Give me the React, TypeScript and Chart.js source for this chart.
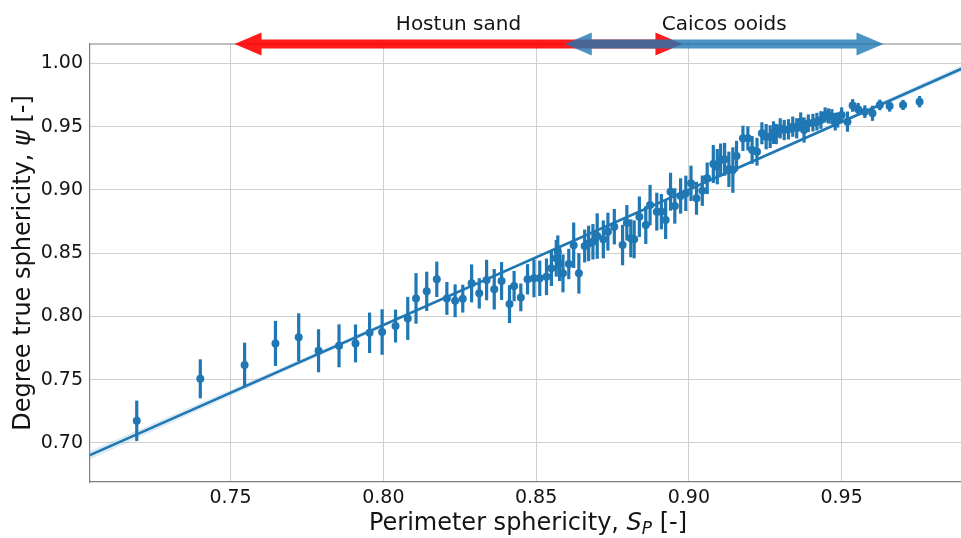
import React, { useEffect, useRef } from "react";
import { Chart, registerables } from "chart.js";

Chart.register(...registerables);

// ---- Data ----
const perimeterSphericity = [
  0.7193, 0.7401, 0.7546, 0.7647, 0.7723, 0.7788, 0.7855, 0.7909, 0.7955, 0.7996,
  0.8040, 0.8080, 0.8107, 0.8142, 0.8175, 0.8208, 0.8235, 0.8260, 0.8289, 0.8314,
  0.8338, 0.8363, 0.8387, 0.8413, 0.8428, 0.8450, 0.8472, 0.8493, 0.8512, 0.8534,
  0.8550, 0.8566, 0.8571, 0.8577, 0.8588, 0.8607, 0.8623, 0.8640, 0.8659, 0.8672,
  0.8686, 0.8700, 0.8720, 0.8735, 0.8756, 0.8783, 0.8797, 0.8810, 0.8821, 0.8838,
  0.8859, 0.8873, 0.8895, 0.8910, 0.8924, 0.8940, 0.8954, 0.8973, 0.8990, 0.9007,
  0.9025, 0.9044, 0.9060, 0.9080, 0.9093, 0.9104, 0.9117, 0.9131, 0.9144, 0.9156,
  0.9177, 0.9193, 0.9207, 0.9223, 0.9239, 0.9253, 0.9266, 0.9277, 0.9286, 0.9299,
  0.9312, 0.9326, 0.9340, 0.9353, 0.9366, 0.9377, 0.9391, 0.9406, 0.9419, 0.9432,
  0.9446, 0.9457, 0.9468, 0.9479, 0.9487, 0.9500, 0.9519, 0.9536, 0.9554, 0.9576,
  0.9601, 0.9625, 0.9657, 0.9701, 0.9755,
];

const trueSphericity = [
  0.7174, 0.7506, 0.7615, 0.7786, 0.7834, 0.7728, 0.7767, 0.7786, 0.7870, 0.7876,
  0.7923, 0.7984, 0.8142, 0.8198, 0.8293, 0.8142, 0.8123, 0.8140, 0.8261, 0.8182,
  0.8287, 0.8214, 0.8279, 0.8097, 0.8240, 0.8150, 0.8293, 0.8301, 0.8301, 0.8313,
  0.8380, 0.8459, 0.8510, 0.8419, 0.8340, 0.8414, 0.8562, 0.8340, 0.8556, 0.8577,
  0.8590, 0.8635, 0.8609, 0.8670, 0.8709, 0.8564, 0.8740, 0.8617, 0.8609, 0.8788,
  0.8722, 0.8880, 0.8828, 0.8828, 0.8762, 0.8986, 0.8873, 0.8952, 0.8973, 0.9052,
  0.8934, 0.8994, 0.9092, 0.9205, 0.9184, 0.9237, 0.9242, 0.9163, 0.9157, 0.9268,
  0.9408, 0.9408, 0.9316, 0.9302, 0.9448, 0.9421, 0.9421, 0.9453, 0.9442, 0.9487,
  0.9474, 0.9479, 0.9500, 0.9487, 0.9540, 0.9474, 0.9527, 0.9532, 0.9540, 0.9553,
  0.9593, 0.9585, 0.9579, 0.9540, 0.9553, 0.9593, 0.9540, 0.9668, 0.9638, 0.9619,
  0.9606, 0.9672, 0.9664, 0.9672, 0.9698,
];

const sphericityError = [
  0.016, 0.0154, 0.0177, 0.0178, 0.019, 0.017, 0.017, 0.015, 0.016, 0.018,
  0.013, 0.017, 0.020, 0.0155, 0.014, 0.013, 0.013, 0.011, 0.015, 0.012,
  0.016, 0.016, 0.015, 0.015, 0.012, 0.011, 0.012, 0.015, 0.014, 0.0145,
  0.014, 0.0145, 0.013, 0.014, 0.015, 0.012, 0.018, 0.016, 0.013, 0.014,
  0.014, 0.018, 0.015, 0.015, 0.014, 0.016, 0.014, 0.015, 0.015, 0.016,
  0.015, 0.016, 0.015, 0.014, 0.015, 0.015, 0.014, 0.014, 0.014, 0.014,
  0.013, 0.012, 0.0125, 0.015, 0.014, 0.013, 0.013, 0.014, 0.018, 0.012,
  0.010, 0.0095, 0.011, 0.011, 0.0087, 0.010, 0.009, 0.009, 0.008, 0.008,
  0.008, 0.008, 0.008, 0.008, 0.0073, 0.010, 0.007, 0.007, 0.007, 0.007,
  0.006, 0.006, 0.006, 0.007, 0.006, 0.006, 0.008, 0.005, 0.005, 0.005,
  0.006, 0.0042, 0.0045, 0.004, 0.0045,
];

// regression line and its confidence band
const fitX = [0.704, 0.9907];
const fitY = [0.6902, 0.9974];
const bandX = [0.704, 0.75, 0.8, 0.85, 0.9, 0.95, 0.9907];
const bandUpper = [0.6937, 0.742, 0.7946, 0.8477, 0.9012, 0.9553, 0.9999];
const bandLower = [0.6867, 0.737, 0.7916, 0.8457, 0.8992, 0.9523, 0.9949];

// tick labels
const xTicks = [0.75, 0.8, 0.85, 0.9, 0.95];
const yTicks = [0.7, 0.75, 0.8, 0.85, 0.9, 0.95, 1.0];

// range annotations at the top of the plot
const hostunLabel = "Hostun sand";
const hostunRange = [0.7513, 0.8979];
const caicosLabel = "Caicos ooids";
const caicosRange = [0.8594, 0.9637];

const FONT = "'DejaVu Sans', sans-serif";
const BLUE = "#1f77b4";
const TEXT = "#141414";

function drawArrow(ctx: CanvasRenderingContext2D, x0: number, x1: number, yc: number, color: string) {
  const shaft = 4.5;
  const headHalf = 11.5;
  const headLen = 27;
  ctx.beginPath();
  ctx.moveTo(x0, yc);
  ctx.lineTo(x0 + headLen, yc - headHalf);
  ctx.lineTo(x0 + headLen, yc - shaft);
  ctx.lineTo(x1 - headLen, yc - shaft);
  ctx.lineTo(x1 - headLen, yc - headHalf);
  ctx.lineTo(x1, yc);
  ctx.lineTo(x1 - headLen, yc + headHalf);
  ctx.lineTo(x1 - headLen, yc + shaft);
  ctx.lineTo(x0 + headLen, yc + shaft);
  ctx.lineTo(x0 + headLen, yc + headHalf);
  ctx.closePath();
  ctx.fillStyle = color;
  ctx.fill();
}

const errorBarPlugin = {
  id: "errorBars",
  beforeDatasetDraw(chart: any, args: any) {
    if (args.index !== 0) return;
    const { ctx, scales } = chart;
    const xs = scales.x;
    const ys = scales.y;
    ctx.save();
    ctx.strokeStyle = BLUE;
    ctx.lineWidth = 3.2;
    perimeterSphericity.forEach((sp, i) => {
      const px = xs.getPixelForValue(sp);
      const y1 = ys.getPixelForValue(trueSphericity[i] - sphericityError[i]);
      const y2 = ys.getPixelForValue(trueSphericity[i] + sphericityError[i]);
      ctx.beginPath();
      ctx.moveTo(px, y1);
      ctx.lineTo(px, y2);
      ctx.stroke();
    });
    ctx.restore();
  },
};

const decorPlugin = {
  id: "decor",
  afterDraw(chart: any) {
    const { ctx, chartArea, scales } = chart;
    const xs = scales.x;
    const top = chartArea.top;
    ctx.save();
    // top spine
    ctx.strokeStyle = "#808080";
    ctx.lineWidth = 1.2;
    ctx.beginPath();
    ctx.moveTo(chartArea.left, top);
    ctx.lineTo(chartArea.right, top);
    ctx.stroke();

    // arrows
    ctx.globalAlpha = 0.9;
    const h0 = xs.getPixelForValue(hostunRange[0]);
    const h1 = xs.getPixelForValue(hostunRange[1]);
    drawArrow(ctx, h0, h1, top, "#ff0000");
    ctx.globalAlpha = 0.8;
    const c0 = xs.getPixelForValue(caicosRange[0]);
    const c1 = xs.getPixelForValue(caicosRange[1]);
    drawArrow(ctx, c0, c1, top, BLUE);
    ctx.globalAlpha = 1;

    // arrow labels
    ctx.fillStyle = TEXT;
    ctx.font = `20px ${FONT}`;
    ctx.textAlign = "center";
    ctx.textBaseline = "alphabetic";
    ctx.fillText(hostunLabel, (h0 + h1) / 2, 30);
    ctx.fillText(caicosLabel, (c0 + c1) / 2, 30);

    // x axis title: Perimeter sphericity, S_P [-]
    const size = 24;
    const normal = `${size}px ${FONT}`;
    const italic = `italic ${size}px ${FONT}`;
    const sub = `italic ${Math.round(size * 0.7)}px ${FONT}`;
    const p1 = "Perimeter sphericity, ";
    const p2 = "S";
    const p3 = "P";
    const p4 = " [-]";
    ctx.textAlign = "left";
    ctx.font = normal;
    const w1 = ctx.measureText(p1).width;
    const w4 = ctx.measureText(p4).width;
    ctx.font = italic;
    const w2 = ctx.measureText(p2).width;
    ctx.font = sub;
    const w3 = ctx.measureText(p3).width;
    const total = w1 + w2 + w3 + w4;
    let x = (chartArea.left + chartArea.right) / 2 - total / 2;
    const base = 530;
    ctx.font = normal;
    ctx.fillText(p1, x, base);
    x += w1;
    ctx.font = italic;
    ctx.fillText(p2, x, base);
    x += w2;
    ctx.font = sub;
    ctx.fillText(p3, x, base + 4);
    x += w3;
    ctx.font = normal;
    ctx.fillText(p4, x, base);

    // y axis title: Degree true sphericity, ψ [-]
    const q1 = "Degree true sphericity, ";
    const q2 = "ψ";
    const q3 = " [-]";
    ctx.font = normal;
    const v1 = ctx.measureText(q1).width;
    const v3 = ctx.measureText(q3).width;
    ctx.font = italic;
    const v2 = ctx.measureText(q2).width;
    const tot2 = v1 + v2 + v3;
    ctx.translate(30, (chartArea.top + chartArea.bottom) / 2);
    ctx.rotate(-Math.PI / 2);
    let yx = -tot2 / 2;
    ctx.font = normal;
    ctx.fillText(q1, yx, 0);
    yx += v1;
    ctx.font = italic;
    ctx.fillText(q2, yx, 0);
    yx += v2;
    ctx.font = normal;
    ctx.fillText(q3, yx, 0);
    ctx.restore();
  },
};

export default function App() {
  const ref = useRef<HTMLCanvasElement>(null);

  useEffect(() => {
    document.body.style.margin = "0";
    const canvas = ref.current!;
    const points = perimeterSphericity.map((sp, i) => ({ x: sp, y: trueSphericity[i] }));
    const fit = fitX.map((v, i) => ({ x: v, y: fitY[i] }));
    const up = bandX.map((v, i) => ({ x: v, y: bandUpper[i] }));
    const lo = bandX.map((v, i) => ({ x: v, y: bandLower[i] }));

    const chart = new Chart(canvas, {
      type: "scatter",
      data: {
        datasets: [
          {
            label: "data",
            data: points,
            backgroundColor: BLUE,
            borderColor: BLUE,
            pointRadius: 4,
            pointBorderWidth: 0,
            order: 0,
          } as any,
          {
            type: "line",
            label: "fit",
            data: fit,
            borderColor: BLUE,
            borderWidth: 2.5,
            pointRadius: 0,
            fill: false,
            order: 1,
          } as any,
          {
            type: "line",
            label: "ci-upper",
            data: up,
            borderWidth: 0,
            borderColor: "rgba(0,0,0,0)",
            backgroundColor: "rgba(31,119,180,0.15)",
            pointRadius: 0,
            fill: "+1",
            tension: 0.4,
            order: 2,
          } as any,
          {
            type: "line",
            label: "ci-lower",
            data: lo,
            borderWidth: 0,
            borderColor: "rgba(0,0,0,0)",
            pointRadius: 0,
            fill: false,
            tension: 0.4,
            order: 3,
          } as any,
        ],
      },
      options: {
        animation: false,
        responsive: false,
        maintainAspectRatio: false,
        layout: { padding: { top: 44, left: 0, right: 0, bottom: 0 } },
        plugins: {
          legend: { display: false },
          tooltip: { enabled: false },
        },
        scales: {
          x: {
            type: "linear",
            min: 0.704,
            max: 0.9907,
            afterFit: (s: any) => {
              s.height = 56;
            },
            afterBuildTicks: (s: any) => {
              s.ticks = xTicks.map((v) => ({ value: v }));
            },
            grid: { color: "#d0d0d0", lineWidth: 1, drawTicks: false },
            border: { display: true, color: "#808080", width: 1.2 },
            ticks: {
              font: { family: FONT, size: 19 },
              color: TEXT,
              padding: 5,
              maxRotation: 0,
              callback: (v: any) => Number(v).toFixed(2),
            },
          },
          y: {
            type: "linear",
            min: 0.669,
            max: 1.0154,
            afterFit: (s: any) => {
              s.width = 90;
            },
            afterBuildTicks: (s: any) => {
              s.ticks = yTicks.map((v) => ({ value: v }));
            },
            grid: { color: "#d0d0d0", lineWidth: 1, drawTicks: false },
            border: { display: true, color: "#808080", width: 1.2 },
            ticks: {
              font: { family: FONT, size: 19 },
              color: TEXT,
              padding: 7,
              callback: (v: any) => Number(v).toFixed(2),
            },
          },
        },
      } as any,
      plugins: [errorBarPlugin, decorPlugin],
    });
    return () => chart.destroy();
  }, []);

  return (
    <div
      style={{
        position: "absolute",
        left: 0,
        top: 0,
        width: 961,
        height: 538,
        overflow: "hidden",
        background: "#ffffff",
      }}
    >
      <canvas ref={ref} width={970} height={538} style={{ width: 970, height: 538, display: "block" }} />
    </div>
  );
}
